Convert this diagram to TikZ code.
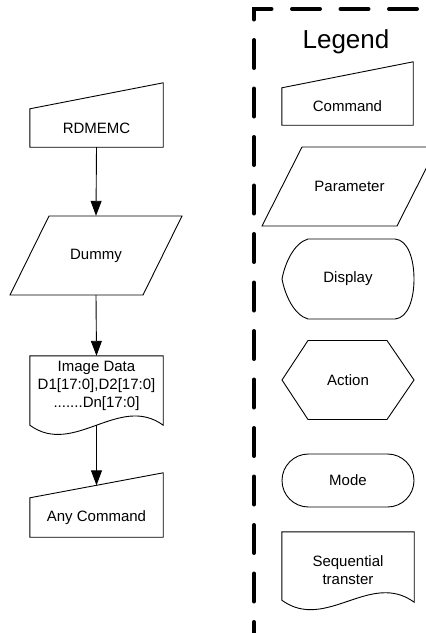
\documentclass[tikz,border=0pt]{standalone}
\usepackage{fontspec}
\setmainfont{Liberation Sans}
\usetikzlibrary{arrows.meta}

\begin{document}
\begin{tikzpicture}[
  x=1pt,y=-1pt,
  every node/.style={font=\fontsize{15}{18}\selectfont,align=center,inner sep=0pt},
  outline/.style={draw=black,line width=0.9pt},
  command/.style={minimum width=133pt,minimum height=38pt},
  param/.style={minimum width=133pt,minimum height=79pt},
  docbox/.style={minimum width=133pt},
  symbox/.style={minimum width=132pt,minimum height=79pt},
  arr/.style={-{Triangle[length=15pt,width=11pt]},line width=0.9pt},
  legendline/.style={line width=4pt,line cap=round,dash pattern=on 28pt off 20.5pt,dash phase=10pt}
]
\useasboundingbox (0,0) rectangle (426,633);

% flow
\node[command] (rdmemc) at (96.5,128) {RDMEMC};
\node[param] (dummy) at (96,255.5) {Dummy};
\node[docbox,minimum height=60pt] (imgdata) at (96.5,386) {Image Data\\D1[17:0],D2[17:0]\\.......Dn[17:0]};
\node[command,minimum height=39pt] (anycmd) at (96.5,517.5) {Any Command};

\draw[outline] (rdmemc.south west) -- (rdmemc.south east) -- ([yshift=26pt]rdmemc.north east) -- (rdmemc.north west) -- cycle;
\begin{scope}[shift={(dummy.center)}]
\draw[outline] (-86,39.5) -- (-47,-39.5) -- (86,-39.5) -- (47,39.5) -- cycle;
\end{scope}
\draw[outline] (imgdata.north west) -- (imgdata.north east) -- ([yshift=-9pt]imgdata.south east)
  .. controls +(-44,-32) and +(44,32) .. ([yshift=-9pt]imgdata.south west) -- cycle;
\draw[outline] (anycmd.south west) -- (anycmd.south east) -- ([yshift=25pt]anycmd.north east) -- (anycmd.north west) -- cycle;

\draw[arr] (rdmemc.south) -- (dummy.north);
\draw[arr] (dummy.south) -- (imgdata.north);
\draw[arr] ([yshift=-9pt]imgdata.south) -- ([yshift=12.5pt]anycmd.north);

% legend
\draw[legendline] (254,640) -- (254,9) -- (440,9);
\node[font=\fontsize{26}{30}\selectfont] (legend) at (346,42) {Legend};

\node[command,minimum width=131pt,minimum height=37pt] (lgcmd) at (347.5,106.5) {Command};
\draw[outline] (lgcmd.south west) -- (lgcmd.south east) -- ([yshift=26pt]lgcmd.north east) -- (lgcmd.north west) -- cycle;

\node[param,minimum width=135pt] (lgparam) at (349.5,186.5) {Parameter};
\begin{scope}[shift={(lgparam.center)}]
\draw[outline] (-87.5,39.5) -- (-47.5,-39.5) -- (87.5,-39.5) -- (47.5,39.5) -- cycle;
\end{scope}

\node[symbox,minimum height=80pt] (lgdisp) at (348,279) {Display};
\begin{scope}[shift={(lgdisp.center)}]
\draw[outline] (-40,-40) -- (47,-40) .. controls (60,-39) and (66,-20) .. (66,0)
  .. controls (66,20) and (60,39) .. (47,40) -- (-40,40)
  .. controls (-54,36) and (-63,16) .. (-66,0) .. controls (-63,-16) and (-54,-36) .. cycle;
\end{scope}

\node[symbox] (lgaction) at (348,380) {Action};
\begin{scope}[shift={(lgaction.center)}]
\draw[outline] (-66,0) -- (-40,-39.5) -- (39,-39.5) -- (66,0) -- (39,39.5) -- (-40,39.5) -- cycle;
\end{scope}

\node[outline,minimum width=132pt,minimum height=53pt,rounded corners=26.5pt] (lgmode) at (348,480.5) {Mode};

\node[docbox,minimum width=132pt,minimum height=77pt] (lgseq) at (348,570.5) {Sequential\\transter};
\draw[outline] (lgseq.north west) -- (lgseq.north east) -- ([yshift=7pt]lgseq.south east)
  .. controls +(-44,-32) and +(44,32) .. ([yshift=9pt]lgseq.south west) -- cycle;
\end{tikzpicture}
\end{document}
